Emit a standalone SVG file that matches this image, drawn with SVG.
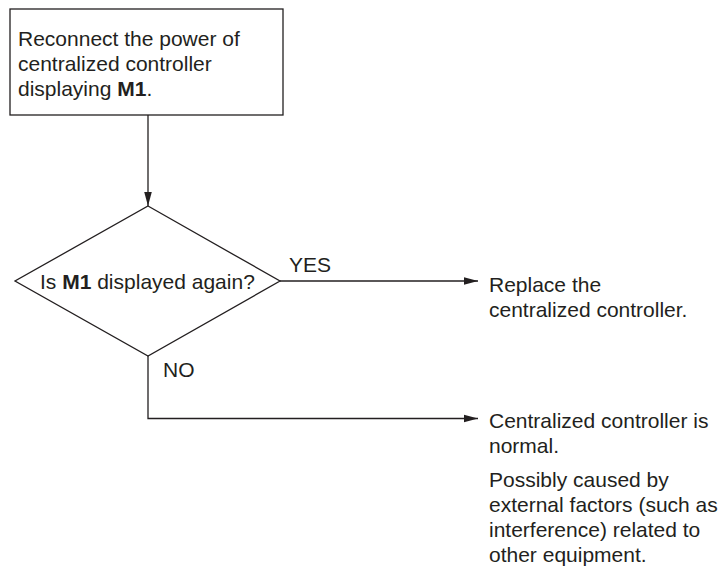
<svg xmlns="http://www.w3.org/2000/svg" width="723" height="569" viewBox="0 0 723 569">
<defs>
<style>
text{font-family:"Liberation Sans",Arial,sans-serif;font-size:21px;fill:#231f20}
.b{font-weight:bold}
.shape{fill:#fff;stroke:#231f20;stroke-width:1.3}
.line{fill:none;stroke:#231f20;stroke-width:1.3}
</style>
<marker id="arr" markerUnits="userSpaceOnUse" markerWidth="15" markerHeight="10" viewBox="0 0 15 10" refX="14" refY="5" orient="auto">
<path d="M0,1.2 L14,5 L0,8.8 Z" fill="#231f20"/>
</marker>
</defs>
<rect width="723" height="569" fill="#fff"/>
<g id="connectors">
<path class="line" d="M148,115 V206" marker-end="url(#arr)"/>
<path class="line" d="M280,281 H478" marker-end="url(#arr)"/>
<path class="line" d="M148,356 V418.5 H478" marker-end="url(#arr)"/>
<text x="289" y="272">YES</text>
<text x="163" y="377">NO</text>
</g>
<g id="start">
<rect class="shape" x="10" y="9" width="273" height="106"/>
<text x="18" y="46">Reconnect the power of</text>
<text x="18" y="71">centralized controller</text>
<text x="18" y="96">displaying <tspan class="b">M1</tspan>.</text>
</g>
<g id="decision">
<polygon class="shape" points="148,206 280,281 148,356 15,281"/>
<text x="40" y="289">Is <tspan class="b">M1</tspan> displayed again?</text>
</g>
<g id="replace">
<text x="489" y="292">Replace the</text>
<text x="489" y="317">centralized controller.</text>
</g>
<g id="normal">
<text x="489" y="428">Centralized controller is</text>
<text x="489" y="453">normal.</text>
<text x="489" y="487">Possibly caused by</text>
<text x="489" y="512">external factors (such as</text>
<text x="489" y="537">interference) related to</text>
<text x="489" y="562">other equipment.</text>
</g>
</svg>
